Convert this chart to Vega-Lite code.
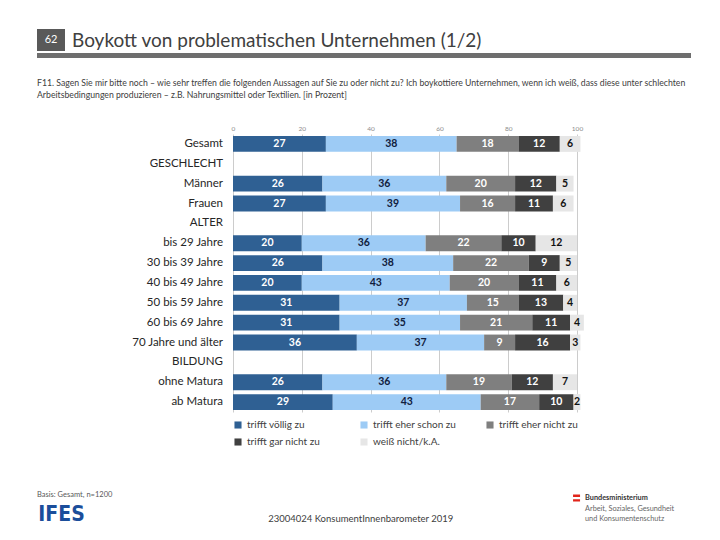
{
  "$schema": "https://vega.github.io/schema/vega-lite/v6.json",
  "padding": {"left": 37, "top": 29, "right": 5, "bottom": 0},
  "spacing": 0,
  "config": {"view": {"stroke": null}, "font": "Lato", "concat": {"spacing": 0}},
  "datasets": {
    "zeilen": [
      {"gruppe": "Gesamt"}, {"gruppe": "GESCHLECHT"}, {"gruppe": "Männer"}, {"gruppe": "Frauen"},
      {"gruppe": "ALTER"}, {"gruppe": "bis 29 Jahre"}, {"gruppe": "30 bis 39 Jahre"}, {"gruppe": "40 bis 49 Jahre"},
      {"gruppe": "50 bis 59 Jahre"}, {"gruppe": "60 bis 69 Jahre"}, {"gruppe": "70 Jahre und älter"},
      {"gruppe": "BILDUNG"}, {"gruppe": "ohne Matura"}, {"gruppe": "ab Matura"}
    ],
    "werte": [
      {"gruppe": "Gesamt", "code": 1, "antwort": "trifft völlig zu", "wert": 27},
      {"gruppe": "Gesamt", "code": 2, "antwort": "trifft eher schon zu", "wert": 38},
      {"gruppe": "Gesamt", "code": 3, "antwort": "trifft eher nicht zu", "wert": 18},
      {"gruppe": "Gesamt", "code": 4, "antwort": "trifft gar nicht zu", "wert": 12},
      {"gruppe": "Gesamt", "code": 5, "antwort": "weiß nicht/k.A.", "wert": 6},
      {"gruppe": "Männer", "code": 1, "antwort": "trifft völlig zu", "wert": 26},
      {"gruppe": "Männer", "code": 2, "antwort": "trifft eher schon zu", "wert": 36},
      {"gruppe": "Männer", "code": 3, "antwort": "trifft eher nicht zu", "wert": 20},
      {"gruppe": "Männer", "code": 4, "antwort": "trifft gar nicht zu", "wert": 12},
      {"gruppe": "Männer", "code": 5, "antwort": "weiß nicht/k.A.", "wert": 5},
      {"gruppe": "Frauen", "code": 1, "antwort": "trifft völlig zu", "wert": 27},
      {"gruppe": "Frauen", "code": 2, "antwort": "trifft eher schon zu", "wert": 39},
      {"gruppe": "Frauen", "code": 3, "antwort": "trifft eher nicht zu", "wert": 16},
      {"gruppe": "Frauen", "code": 4, "antwort": "trifft gar nicht zu", "wert": 11},
      {"gruppe": "Frauen", "code": 5, "antwort": "weiß nicht/k.A.", "wert": 6},
      {"gruppe": "bis 29 Jahre", "code": 1, "antwort": "trifft völlig zu", "wert": 20},
      {"gruppe": "bis 29 Jahre", "code": 2, "antwort": "trifft eher schon zu", "wert": 36},
      {"gruppe": "bis 29 Jahre", "code": 3, "antwort": "trifft eher nicht zu", "wert": 22},
      {"gruppe": "bis 29 Jahre", "code": 4, "antwort": "trifft gar nicht zu", "wert": 10},
      {"gruppe": "bis 29 Jahre", "code": 5, "antwort": "weiß nicht/k.A.", "wert": 12},
      {"gruppe": "30 bis 39 Jahre", "code": 1, "antwort": "trifft völlig zu", "wert": 26},
      {"gruppe": "30 bis 39 Jahre", "code": 2, "antwort": "trifft eher schon zu", "wert": 38},
      {"gruppe": "30 bis 39 Jahre", "code": 3, "antwort": "trifft eher nicht zu", "wert": 22},
      {"gruppe": "30 bis 39 Jahre", "code": 4, "antwort": "trifft gar nicht zu", "wert": 9},
      {"gruppe": "30 bis 39 Jahre", "code": 5, "antwort": "weiß nicht/k.A.", "wert": 5},
      {"gruppe": "40 bis 49 Jahre", "code": 1, "antwort": "trifft völlig zu", "wert": 20},
      {"gruppe": "40 bis 49 Jahre", "code": 2, "antwort": "trifft eher schon zu", "wert": 43},
      {"gruppe": "40 bis 49 Jahre", "code": 3, "antwort": "trifft eher nicht zu", "wert": 20},
      {"gruppe": "40 bis 49 Jahre", "code": 4, "antwort": "trifft gar nicht zu", "wert": 11},
      {"gruppe": "40 bis 49 Jahre", "code": 5, "antwort": "weiß nicht/k.A.", "wert": 6},
      {"gruppe": "50 bis 59 Jahre", "code": 1, "antwort": "trifft völlig zu", "wert": 31},
      {"gruppe": "50 bis 59 Jahre", "code": 2, "antwort": "trifft eher schon zu", "wert": 37},
      {"gruppe": "50 bis 59 Jahre", "code": 3, "antwort": "trifft eher nicht zu", "wert": 15},
      {"gruppe": "50 bis 59 Jahre", "code": 4, "antwort": "trifft gar nicht zu", "wert": 13},
      {"gruppe": "50 bis 59 Jahre", "code": 5, "antwort": "weiß nicht/k.A.", "wert": 4},
      {"gruppe": "60 bis 69 Jahre", "code": 1, "antwort": "trifft völlig zu", "wert": 31},
      {"gruppe": "60 bis 69 Jahre", "code": 2, "antwort": "trifft eher schon zu", "wert": 35},
      {"gruppe": "60 bis 69 Jahre", "code": 3, "antwort": "trifft eher nicht zu", "wert": 21},
      {"gruppe": "60 bis 69 Jahre", "code": 4, "antwort": "trifft gar nicht zu", "wert": 11},
      {"gruppe": "60 bis 69 Jahre", "code": 5, "antwort": "weiß nicht/k.A.", "wert": 4},
      {"gruppe": "70 Jahre und älter", "code": 1, "antwort": "trifft völlig zu", "wert": 36},
      {"gruppe": "70 Jahre und älter", "code": 2, "antwort": "trifft eher schon zu", "wert": 37},
      {"gruppe": "70 Jahre und älter", "code": 3, "antwort": "trifft eher nicht zu", "wert": 9},
      {"gruppe": "70 Jahre und älter", "code": 4, "antwort": "trifft gar nicht zu", "wert": 16},
      {"gruppe": "70 Jahre und älter", "code": 5, "antwort": "weiß nicht/k.A.", "wert": 3},
      {"gruppe": "ohne Matura", "code": 1, "antwort": "trifft völlig zu", "wert": 26},
      {"gruppe": "ohne Matura", "code": 2, "antwort": "trifft eher schon zu", "wert": 36},
      {"gruppe": "ohne Matura", "code": 3, "antwort": "trifft eher nicht zu", "wert": 19},
      {"gruppe": "ohne Matura", "code": 4, "antwort": "trifft gar nicht zu", "wert": 12},
      {"gruppe": "ohne Matura", "code": 5, "antwort": "weiß nicht/k.A.", "wert": 7},
      {"gruppe": "ab Matura", "code": 1, "antwort": "trifft völlig zu", "wert": 29},
      {"gruppe": "ab Matura", "code": 2, "antwort": "trifft eher schon zu", "wert": 43},
      {"gruppe": "ab Matura", "code": 3, "antwort": "trifft eher nicht zu", "wert": 17},
      {"gruppe": "ab Matura", "code": 4, "antwort": "trifft gar nicht zu", "wert": 10},
      {"gruppe": "ab Matura", "code": 5, "antwort": "weiß nicht/k.A.", "wert": 2}
    ]
  },
  "vconcat": [
    {
      "hconcat": [
        {
          "width": 28, "height": 22,
          "view": {"fill": "#595959", "stroke": null},
          "data": {"values": [{"nr": "62"}]},
          "mark": {"type": "text", "color": "white", "fontSize": 11, "align": "center", "baseline": "middle"},
          "encoding": {
            "text": {"field": "nr"},
            "x": {"datum": 0.5, "scale": {"domain": [0, 1]}, "axis": null},
            "y": {"datum": 0.5, "scale": {"domain": [0, 1]}, "axis": null}
          }
        },
        {
          "width": 618, "height": 24,
          "data": {"values": [{"titel": "Boykott von problematischen Unternehmen (1/2)"}]},
          "mark": {"type": "text", "color": "#404040", "fontSize": 19, "align": "left", "baseline": "middle"},
          "encoding": {
            "text": {"field": "titel"},
            "x": {"datum": 0, "scale": {"domain": [0, 1]}, "axis": null},
            "y": {"datum": 0.5, "scale": {"domain": [0, 1], "reverse": true}, "axis": null}
          }
        }
      ],
      "spacing": 7
    },
    {
      "width": 654, "height": 5,
      "view": {"fill": "#6E6E6E", "stroke": null},
      "data": {"values": []},
      "mark": {"type": "text"},
      "encoding": {}
    },
    {
      "width": 654, "height": 67,
      "data": {"values": [{"frage": "F11. Sagen Sie mir bitte noch – wie sehr treffen die folgenden Aussagen auf Sie zu oder nicht zu? Ich boykottiere Unternehmen, wenn ich weiß, dass diese unter schlechten\nArbeitsbedingungen produzieren – z.B. Nahrungsmittel oder Textilien. [in Prozent]"}]},
      "mark": {"type": "text", "color": "#404040", "fontSize": 8.7, "align": "left", "baseline": "top", "lineBreak": "\n", "lineHeight": 12.5},
      "encoding": {
        "text": {"field": "frage"},
        "x": {"datum": 0, "scale": {"domain": [0, 1]}, "axis": null},
        "y": {"datum": 0.31, "scale": {"domain": [0, 1], "reverse": true}, "axis": null}
      }
    },
    {
      "hconcat": [
        {
          "width": 186, "height": 278,
          "data": {"name": "zeilen"},
          "mark": {"type": "text", "align": "right", "baseline": "middle", "fontSize": 11.5, "color": "#262626"},
          "encoding": {
            "y": {"field": "gruppe", "type": "nominal", "sort": null, "scale": {"paddingInner": 0.2, "paddingOuter": 0.1}, "axis": null},
            "x": {"datum": 1, "scale": {"domain": [0, 1]}, "axis": null},
            "text": {"field": "gruppe"}
          }
        },
        {
          "width": 344, "height": 278,
          "data": {"name": "werte"},
          "layer": [
            {
              "mark": {"type": "bar"},
              "encoding": {
                "y": {"field": "gruppe", "type": "nominal",
                  "scale": {"domain": ["Gesamt", "GESCHLECHT", "Männer", "Frauen", "ALTER", "bis 29 Jahre", "30 bis 39 Jahre", "40 bis 49 Jahre", "50 bis 59 Jahre", "60 bis 69 Jahre", "70 Jahre und älter", "BILDUNG", "ohne Matura", "ab Matura"], "paddingInner": 0.2, "paddingOuter": 0.1},
                  "axis": null},
                "x": {"field": "wert", "type": "quantitative", "stack": "zero",
                  "scale": {"domain": [0, 100], "nice": false},
                  "axis": {"orient": "top", "values": [0, 20, 40, 60, 80, 100], "grid": true, "gridColor": "#BFBFBF", "gridWidth": 0.8, "domain": false, "ticks": false, "labelFlush": false, "labelFontSize": 6.5, "labelColor": "#8C8C8C", "labelPadding": 3, "title": null}},
                "order": {"field": "code", "type": "quantitative"},
                "color": {"field": "antwort", "type": "nominal",
                  "sort": ["trifft völlig zu", "trifft eher schon zu", "trifft eher nicht zu", "trifft gar nicht zu", "weiß nicht/k.A."],
                  "scale": {"domain": ["trifft völlig zu", "trifft eher schon zu", "trifft eher nicht zu", "trifft gar nicht zu", "weiß nicht/k.A."], "range": ["#2F6093", "#9DCBF5", "#7F7F7F", "#404040", "#E6E6E6"]},
                  "legend": {"orient": "bottom", "direction": "horizontal", "columns": 3, "title": null, "symbolType": "square", "symbolSize": 50, "symbolStrokeWidth": 0, "labelFontSize": 10, "labelColor": "#404040", "columnPadding": 28, "rowPadding": 7, "gridAlign": "all", "offset": 8, "labelOffset": 4}}
              }
            },
            {
              "mark": {"type": "text", "fontWeight": "bold", "fontSize": 10.5, "baseline": "middle", "align": "center"},
              "encoding": {
                "y": {"field": "gruppe", "type": "nominal"},
                "x": {"field": "wert", "type": "quantitative", "stack": "zero", "bandPosition": 0.5},
                "order": {"field": "code", "type": "quantitative"},
                "text": {"field": "wert", "type": "quantitative"},
                "color": {"field": "antwort", "type": "nominal",
                  "scale": {"domain": ["trifft völlig zu", "trifft eher schon zu", "trifft eher nicht zu", "trifft gar nicht zu", "weiß nicht/k.A."], "range": ["#FFFFFF", "#10203D", "#FFFFFF", "#FFFFFF", "#111111"]},
                  "legend": null}
              }
            }
          ],
          "resolve": {"scale": {"color": "independent"}}
        }
      ],
      "spacing": 8
    },
    {
      "width": 654, "height": 90,
      "layer": [
        {
          "data": {"values": [{"t": "Basis: Gesamt, n=1200"}]},
          "mark": {"type": "text", "align": "left", "baseline": "middle", "fontSize": 7.5, "color": "#595959"},
          "encoding": {
            "text": {"field": "t"},
            "x": {"datum": 0, "scale": {"domain": [0, 1]}, "axis": null},
            "y": {"datum": 0.533, "scale": {"domain": [0, 1], "reverse": true}, "axis": null}
          }
        },
        {
          "data": {"values": [{"t": "IFES"}]},
          "mark": {"type": "text", "align": "left", "baseline": "middle", "fontSize": 21, "fontWeight": "bold", "font": "'DejaVu Sans Condensed', 'Liberation Sans Narrow', Roboto, sans-serif", "color": "#1B4E9B"},
          "encoding": {"text": {"field": "t"}, "x": {"datum": 0.002}, "y": {"datum": 0.761}}
        },
        {
          "data": {"values": [{"t": "23004024 KonsumentInnenbarometer 2019"}]},
          "mark": {"type": "text", "align": "center", "baseline": "middle", "fontSize": 9.5, "color": "#404040"},
          "encoding": {"text": {"field": "t"}, "x": {"datum": 0.495}, "y": {"datum": 0.8}}
        },
        {
          "data": {"values": [{"flagge": "Österreich"}]},
          "mark": {"type": "point", "filled": true, "opacity": 1, "size": 49, "color": "#E1251B", "shape": "M-1,-1H1V-0.33H-1Z M-1,0.33H1V1H-1Z"},
          "encoding": {"x": {"datum": 0.825}, "y": {"datum": 0.567}}
        },
        {
          "data": {"values": [{"t": "Bundesministerium"}]},
          "mark": {"type": "text", "align": "left", "baseline": "middle", "fontSize": 7.3, "fontWeight": "bold", "color": "#333333"},
          "encoding": {"text": {"field": "t"}, "x": {"datum": 0.838}, "y": {"datum": 0.567}}
        },
        {
          "data": {"values": [{"t": "Arbeit, Soziales, Gesundheit\nund Konsumentenschutz"}]},
          "mark": {"type": "text", "align": "left", "baseline": "top", "fontSize": 7.3, "color": "#666666", "lineBreak": "\n", "lineHeight": 10},
          "encoding": {"text": {"field": "t"}, "x": {"datum": 0.838}, "y": {"datum": 0.644}}
        }
      ]
    }
  ]
}
